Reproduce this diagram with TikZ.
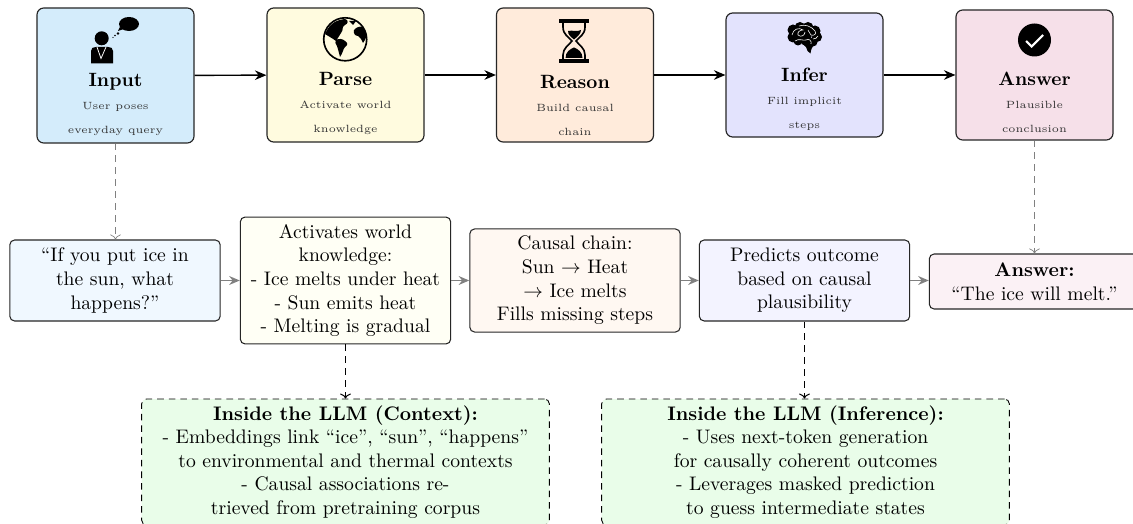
\documentclass[tikz,border=0pt]{standalone}
\usepackage{fix-cm}
\usetikzlibrary{arrows.meta}
\definecolor{fa}{HTML}{D4ECFB}\definecolor{fb}{HTML}{FFFBDF}\definecolor{fc}{HTML}{FFEBDB}\definecolor{fd}{HTML}{E3E3FD}\definecolor{fe}{HTML}{F6E0E9}
\definecolor{la}{HTML}{F0F8FF}\definecolor{lb}{HTML}{FFFFF5}\definecolor{lc}{HTML}{FFF8F2}\definecolor{ld}{HTML}{F3F3FF}\definecolor{le}{HTML}{FBF1F5}\definecolor{gr}{HTML}{E9FDE9}
\newcommand{\bodyfont}{\fontsize{10.2}{12.3}\selectfont}
\tikzset{
 stepbox/.style={draw=black!85,line width=.6pt,rounded corners=3.5pt,minimum width=81.64pt,inner sep=0pt},
 stepname/.style={font=\bfseries,inner sep=0pt,anchor=base},
 stepnote/.style={font=\fontsize{5.45}{6.5}\selectfont,text=black!80,inner sep=0pt,anchor=base},
 detail/.style={draw=black!85,line width=.55pt,rounded corners=2.5pt,minimum width=109.4pt,inner sep=0pt,align=center,font=\bodyfont},
 inside/.style={draw=black,dashed,dash pattern=on 3.4pt off 2.6pt,line width=.45pt,rounded corners=2.5pt,fill=gr,minimum width=212pt,minimum height=65.5pt,inner sep=0pt,align=center,font=\bodyfont},
 flow/.style={-{Stealth[length=6pt,width=5pt,inset=2pt]},line width=.75pt,black},
 next/.style={-{Stealth[length=5.5pt,width=4.6pt,inset=1.8pt]},line width=.85pt,black!50},
 lookup/.style={-{To[length=2.6pt,width=5.6pt]},dash pattern=on 3.6pt off 2.6pt,line width=.35pt,black!50},
 peek/.style={-{To[length=2.6pt,width=5.6pt]},dash pattern=on 3.6pt off 2.6pt,line width=.5pt,black},
}
\begin{document}
\begin{tikzpicture}[x=.52pt,y=-.52pt]
\clip (0,0) rectangle (1133,524);
\fill[white] (0,0) rectangle (1133,524);
% step boxes
\node[stepbox,fill=fa,minimum height=70.2pt] (input) at (115.5,75.5) {};
\node[stepbox,fill=fb,minimum height=69.7pt] (parse) at (345.5,75) {};
\node[stepbox,fill=fc,minimum height=69.7pt] (reason) at (575,75) {};
\node[stepbox,fill=fd,minimum height=64.5pt] (infer) at (804.5,75) {};
\node[stepbox,fill=fe,minimum height=67.6pt] (answer) at (1034.5,75) {};
% step texts
\node[stepname] (t1) at (115.5,87) {Input};
\node[stepnote] (n1a) at (115.5,110) {User poses};
\node[stepnote] (n1b) at (115.5,134) {everyday query};
\node[stepname] (t2) at (345.5,86) {Parse};
\node[stepnote] (n2a) at (345.5,109) {Activate world};
\node[stepnote] (n2b) at (345.5,133) {knowledge};
\node[stepname] (t3) at (575,89) {Reason};
\node[stepnote] (n3a) at (575,112) {Build causal};
\node[stepnote] (n3b) at (575,136) {chain};
\node[stepname] (t4) at (804.5,82) {Infer};
\node[stepnote] (n4a) at (804.5,105) {Fill implicit};
\node[stepnote] (n4b) at (804.5,129) {steps};
\node[stepname] (t5) at (1034.5,86) {Answer};
\node[stepnote] (n5a) at (1034.5,109) {Plausible};
\node[stepnote] (n5b) at (1034.5,133) {conclusion};
% person icon
\fill (101.7,38.3) circle (7);
\fill (91,63.5) -- (91,51) .. controls (91,48) and (93,47) .. (96,47) -- (108,47) .. controls (111,47) and (113,48) .. (113,51) -- (113,63.5) -- cycle;
\draw[white,line width=.4pt] (97,47) -- (101,58.5) -- (106,47);
\fill (129,24) ellipse (10 and 7);
\fill (120,27) -- (118,31) -- (124,29) -- cycle;
\fill (118,33.5) circle (1.3);
\fill (115,35.5) circle (.9);
\fill (113,37.5) circle (.7);
% globe icon
\draw[line width=.85pt] (345.2,39.3) circle (21.5);
\begin{scope}
\clip (345.2,39.3) circle (21.5);
\fill (327,30) .. controls (330,24) and (336,20) .. (345,19) .. controls (349,20) and (348,24) .. (345,25) .. controls (341,27) and (344,30) .. (341,33) .. controls (339,36) and (338,38) .. (336,41) .. controls (332,38) and (328,36) .. (325,34) -- cycle;
\fill (336,40) .. controls (339,38) and (343,39) .. (345,41) .. controls (348,43) and (348,45) .. (345,47) .. controls (343,49) and (343,53) .. (340,57) .. controls (339,53) and (338,49) .. (337,46) .. controls (335,44) and (335,42) .. (336,40) -- cycle;
\fill (354,30) .. controls (357,26) and (363,25) .. (366,30) .. controls (368,34) and (366,39) .. (363,43) .. controls (361,40) and (361,37) .. (358,36) .. controls (355,36) and (353,33) .. (354,30) -- cycle;
\fill (349,21) -- (356,21) -- (353,25) -- cycle;
\end{scope}
% hourglass icon
\fill (559,19.5) rectangle (589,23.5);
\fill (559,59) rectangle (589,63);
\draw[line width=.85pt] (563,23) -- (563,27) .. controls (563,35) and (569,37) .. (572,41) .. controls (569,45) and (563,48) .. (563,55) -- (563,60);
\draw[line width=.85pt] (585,23) -- (585,27) .. controls (585,35) and (579,37) .. (576,41) .. controls (579,45) and (585,48) .. (585,55) -- (585,60);
\fill (568,31) .. controls (572,30) and (578,32) .. (581,30) .. controls (581,34) and (577,37) .. (574,39.5) .. controls (571,37) and (568,35) .. (568,31) -- cycle;
\fill (565.5,58) .. controls (565.5,52) and (570,49) .. (574,47.5) .. controls (578,49) and (582.5,52) .. (582.5,58) -- cycle;
% brain icon
\fill (793,30) circle (5.5) (800,27.5) circle (5.5) (808,27.5) circle (5.5) (815,31) circle (5.5) (817,37) circle (5) (813,42) circle (4.5) (806,41) circle (5) (798,41) circle (4.5) (793,37) circle (5.5) (804,34) circle (8);
\fill (807,44) -- (815,44) .. controls (812,47) and (811,49) .. (810.5,53.5) -- (807.5,51) .. controls (807,48) and (806,47) .. (804,45) -- cycle;
\draw[white,line width=.3pt] (792,35) .. controls (793,29) and (799,27) .. (803,30) .. controls (800,30) and (797,32) .. (798,35) .. controls (801,38) and (805,35) .. (805,32) (799,26) .. controls (805,24) and (811,26) .. (815,31) .. controls (817,34) and (814,36) .. (811,35) .. controls (809,33) and (809,31) .. (808,30) (795,41) .. controls (799,38) and (803,41) .. (806,40) .. controls (809,38) and (812,41) .. (811,44) (813,39) .. controls (815,39) and (817,38) .. (818,36);
% check icon
\fill (1034.5,40) circle (16.5);
\draw[white,line width=1.1pt] (1026,41) -- (1031.5,46.5) -- (1043,35);
% detail boxes
\node[detail,fill=la,minimum height=42.1pt] (q) at (115,280.5) {``If you put ice in\\the sun, what\\happens?''};
\node[detail,fill=lb,minimum height=66pt] (know) at (345.5,280.5) {Activates world\\knowledge:\\- Ice melts under heat\\- Sun emits heat\\- Melting is gradual};
\node[detail,fill=lc,minimum height=53.6pt] (chain) at (575,280.5) {Causal chain:\\Sun $\to$ Heat\\$\to$ Ice melts\\Fills missing steps};
\node[detail,fill=ld,minimum height=42.1pt] (pred) at (804.5,280.5) {Predicts outcome\\based on causal\\plausibility};
\node[detail,fill=le,minimum height=28.6pt] (res) at (1034.5,281.5) {\textbf{Answer:}\\``The ice will melt.''};
% inside boxes
\node[inside] (ctx) at (345.5,462) {\textbf{Inside the LLM (Context):}\\- Embeddings link ``ice'', ``sun'', ``happens''\\to environmental and thermal contexts\\- Causal associations re-\\trieved from pretraining corpus};
\node[inside] (inf) at (805.5,462) {\textbf{Inside the LLM (Inference):}\\- Uses next-token generation\\for causally coherent outcomes\\- Leverages masked prediction\\to guess intermediate states};
% connectors
\draw[flow] (input) -- (parse);
\draw[flow] (parse) -- (reason);
\draw[flow] (reason) -- (infer);
\draw[flow] (infer) -- (answer);
\draw[next] (q) -- (know);
\draw[next] (know) -- (chain);
\draw[next] (chain) -- (pred);
\draw[next] (pred) -- (res.west |- pred);
\draw[lookup] (input.south) -- (input.south |- q.north);
\draw[lookup] (answer.south) -- (answer.south |- res.north);
\draw[peek] (know) -- (ctx);
\draw[peek] (pred.south) -- (pred.south |- inf.north);
\end{tikzpicture}
\end{document}
